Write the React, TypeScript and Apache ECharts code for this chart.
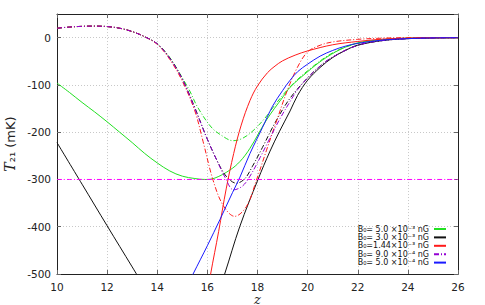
import React, { useEffect, useRef } from "react";
import * as echarts from "echarts";

// ---- data ----
const xTicks = [10, 12, 14, 16, 18, 20, 22, 24, 26];
const yTicks = [-500, -400, -300, -200, -100, 0];

const legendNames = [
  "B₀= 5.0 ×10⁻³ nG",
  "B₀= 3.0 ×10⁻³ nG",
  "B₀=1.44×10⁻³ nG",
  "B₀= 9.0 ×10⁻⁴ nG",
  "B₀= 5.0 ×10⁻⁴ nG",
];

const greenSolidZ = [10, 10.5, 11, 11.5, 12, 12.5, 13, 13.5, 14, 14.5, 15, 15.5, 15.9, 16.3, 16.9, 17.3, 17.7, 18.36, 19.02, 19.3, 20, 20.6, 21.3, 22, 23, 24, 25, 26];
const greenSolidT = [-96, -116, -137, -157, -178, -200, -222, -245, -265, -282, -293, -298, -300, -297, -280, -262, -234, -174, -125, -105, -72, -47, -25, -11, -4, -1, -0.3, 0];

const blackLeftZ = [10, 11, 12, 13, 13.5];
const blackLeftT = [-222, -310, -398, -485, -529];
const blackRightZ = [16.5, 16.69, 17.29, 18.02, 18.5, 18.88, 19.3, 19.6, 20, 20.5, 21, 21.5, 22, 23, 24, 25, 26];
const blackRightT = [-527, -500, -400, -300, -240, -198, -155, -122, -90, -63, -42, -27, -16, -6, -2, -0.5, 0];

const redSolidZ = [16.05, 16.13, 16.45, 16.75, 17.05, 17.35, 17.7, 18.0, 18.4, 18.7, 19.0, 19.5, 20, 21, 22, 23, 24, 25, 26];
const redSolidT = [-530, -500, -410, -320, -245, -185, -133, -102, -74, -60, -49, -37, -28, -15, -8, -3, -1, -0.3, 0];

const blueSolidZ = [15.2, 15.43, 16.0, 16.5, 17.0, 17.3, 17.7, 18.2, 18.6, 19.0, 19.3, 19.6, 20, 20.5, 21, 21.5, 22, 23, 24, 25, 26];
const blueSolidT = [-525, -500, -440, -385, -328, -295, -245, -190, -145, -112, -90, -72, -56, -39, -27, -18, -12, -5, -2, -0.5, 0];

const purpleDashZ = [10, 10.5, 11, 11.5, 12, 12.5, 13, 13.5, 14, 14.5, 15, 15.56, 16, 16.4, 16.7, 17.05, 17.4, 17.7, 18.1, 18.5, 18.88, 19.3, 19.6, 20, 20.5, 21, 22, 23, 24, 25, 26];
const purpleDashT = [20, 22.5, 24, 24.5, 23.5, 20, 13, 2, -13, -44, -88, -158, -215, -262, -295, -322, -314, -293, -254, -212, -173, -135, -110, -85, -60, -41, -16, -6, -2, -0.5, 0];

const greenDashZ = [10, 10.5, 11, 11.5, 12, 12.5, 13, 13.5, 14, 14.5, 15, 15.3, 15.6, 16.15, 16.6, 17.02, 17.4, 17.82, 18.3, 18.7, 19.3, 20, 21, 22, 23, 24, 26];
const greenDashT = [20, 22.5, 24, 24.5, 23.5, 20, 13, 2, -13, -42, -85, -113, -146, -189, -208, -218, -213, -197, -170, -142, -104, -70, -32, -12, -4, -1, 0];

const blackDashZ = [10, 10.5, 11, 11.5, 12, 12.5, 13, 13.5, 14, 14.5, 15, 15.5, 16, 16.5, 16.8, 17.16, 17.5, 17.8, 18.2, 18.7, 19.3, 20, 20.5, 21, 22, 23, 24, 25, 26];
const blackDashT = [20, 22.5, 24, 24.5, 23.5, 20, 13, 2, -13, -43, -87, -148, -215, -272, -296, -308, -298, -272, -232, -180, -128, -85, -60, -41, -16, -6, -2, -0.5, 0];

const redDashZ = [10, 10.5, 11, 11.5, 12, 12.5, 13, 13.5, 14, 14.5, 15, 15.5, 15.83, 16.23, 16.63, 17.09, 17.56, 17.96, 18.36, 18.82, 19.2, 19.6, 20, 20.5, 21, 22, 23, 24, 26];
const redDashT = [20, 22.5, 24, 24.5, 23.5, 20, 13, 2, -14, -46, -92, -155, -220, -302, -355, -378, -357, -301, -238, -167, -110, -62, -30, -16, -9, -3.5, -1, 0, 0];

const refLineZ = [10, 26];
const refLineT = [-300, -300];

const zip = (z: number[], t: number[]) => z.map((v, i) => [v, t[i]]);

const DASHDOT = [5, 2, 1, 2];
const GRID = "#c8c8c8";

export default function App() {
  const ref = useRef<HTMLDivElement>(null);
  useEffect(() => {
    if (!ref.current) return;
    const chart = echarts.init(ref.current, undefined, { renderer: "svg" });
    const mk = (name: string, z: number[], t: number[], color: string, dash: boolean, z2 = 2, w = 1) => ({
      type: "line",
      name,
      data: zip(z, t),
      showSymbol: false,
      symbol: "none",
      smooth: 0.35,
      clip: true,
      z: z2,
      color,
      itemStyle: { color },
      lineStyle: { color, width: w, type: dash ? DASHDOT : "solid", opacity: 1 },
    });
    const axisFont = { fontFamily: "DejaVu Sans", fontSize: 10.5, color: "#222", lineHeight: 11 };
    const frameLine = { show: true, onZero: false, lineStyle: { color: "#222", width: 1 } };
    const tick = { show: true, inside: true, length: 4, lineStyle: { color: "#666" } };
    const option: any = {
      animation: false,
      backgroundColor: "#fff",
      grid: { left: 57, right: 27, top: 14.05, bottom: 31, containLabel: false, outerBoundsMode: "none" },
      legend: {
        data: legendNames,
        orient: "vertical",
        align: "right",
        right: 38,
        top: 225,
        padding: 0,
        itemWidth: 12,
        itemHeight: 8,
        itemGap: 0.4,
        itemStyle: { opacity: 0 },
        textStyle: { fontFamily: "DejaVu Sans", fontSize: 8, color: "#111", lineHeight: 8 },
      },
      xAxis: [
        {
          type: "value",
          min: 10,
          max: 26,
          interval: 2,
          name: "z",
          nameLocation: "middle",
          nameGap: 19,
          nameMoveOverlap: false,
          nameTextStyle: { fontFamily: "DejaVu Serif", fontStyle: "italic", fontSize: 13, lineHeight: 12, color: "#222" },
          axisLine: frameLine,
          axisTick: tick,
          axisLabel: { ...axisFont, margin: 7, formatter: (v: number) => (xTicks.includes(v) ? String(v) : "") },
          splitLine: { show: true, lineStyle: { color: GRID, type: [1, 2], width: 1 } },
        },
        {
          type: "value",
          position: "top",
          min: 10,
          max: 26,
          interval: 2,
          axisLine: frameLine,
          axisTick: tick,
          axisLabel: { show: false },
          splitLine: { show: false },
        },
      ],
      yAxis: [
        {
          type: "value",
          min: -500,
          max: 50,
          interval: 100,
          name: "{t|T}{n|₂₁ (mK)}",
          nameLocation: "middle",
          nameGap: 40,
          nameRotate: 90,
          nameMoveOverlap: false,
          nameTextStyle: {
            rich: {
              t: { fontFamily: "DejaVu Serif", fontStyle: "italic", fontSize: 14, color: "#222" },
              n: { fontFamily: "DejaVu Sans", fontSize: 13, color: "#222" },
            },
          },
          axisLine: frameLine,
          axisTick: tick,
          axisLabel: {
            ...axisFont,
            margin: 6,
            showMaxLabel: false,
            formatter: (v: number) => (yTicks.includes(v) ? String(v) : ""),
          },
          splitLine: {
            show: true,
            lineStyle: { color: [GRID, GRID, "rgba(0,0,0,0)", GRID, GRID, GRID, GRID], type: [1, 2], width: 1 },
          },
        },
        {
          type: "value",
          position: "right",
          min: -500,
          max: 50,
          interval: 100,
          axisLine: frameLine,
          axisTick: tick,
          axisLabel: { show: false },
          splitLine: { show: false },
        },
      ],
      series: [
        mk("ref-300", refLineZ, refLineT, "#ff00ff", true, 3, 1),
        mk(legendNames[0], greenSolidZ, greenSolidT, "#22e022", false),
        mk("green-dd", greenDashZ, greenDashT, "#22e022", true),
        mk(legendNames[1], blackLeftZ, blackLeftT, "#111111", false),
        mk(legendNames[1], blackRightZ, blackRightT, "#111111", false),
        mk("black-dd", blackDashZ, blackDashT, "#111111", true),
        mk(legendNames[2], redSolidZ, redSolidT, "#ff1a1a", false),
        mk("red-dd", redDashZ, redDashT, "#ff1a1a", true),
        mk(legendNames[3], purpleDashZ, purpleDashT, "#9400d3", true),
        mk(legendNames[4], blueSolidZ, blueSolidT, "#1a1aff", false),
      ],
    };
    chart.setOption(option);
    return () => chart.dispose();
  }, []);
  return (
    <div
      ref={ref}
      style={{ position: "fixed", left: 0, top: 0, width: 485, height: 305, background: "#fff" }}
    />
  );
}
